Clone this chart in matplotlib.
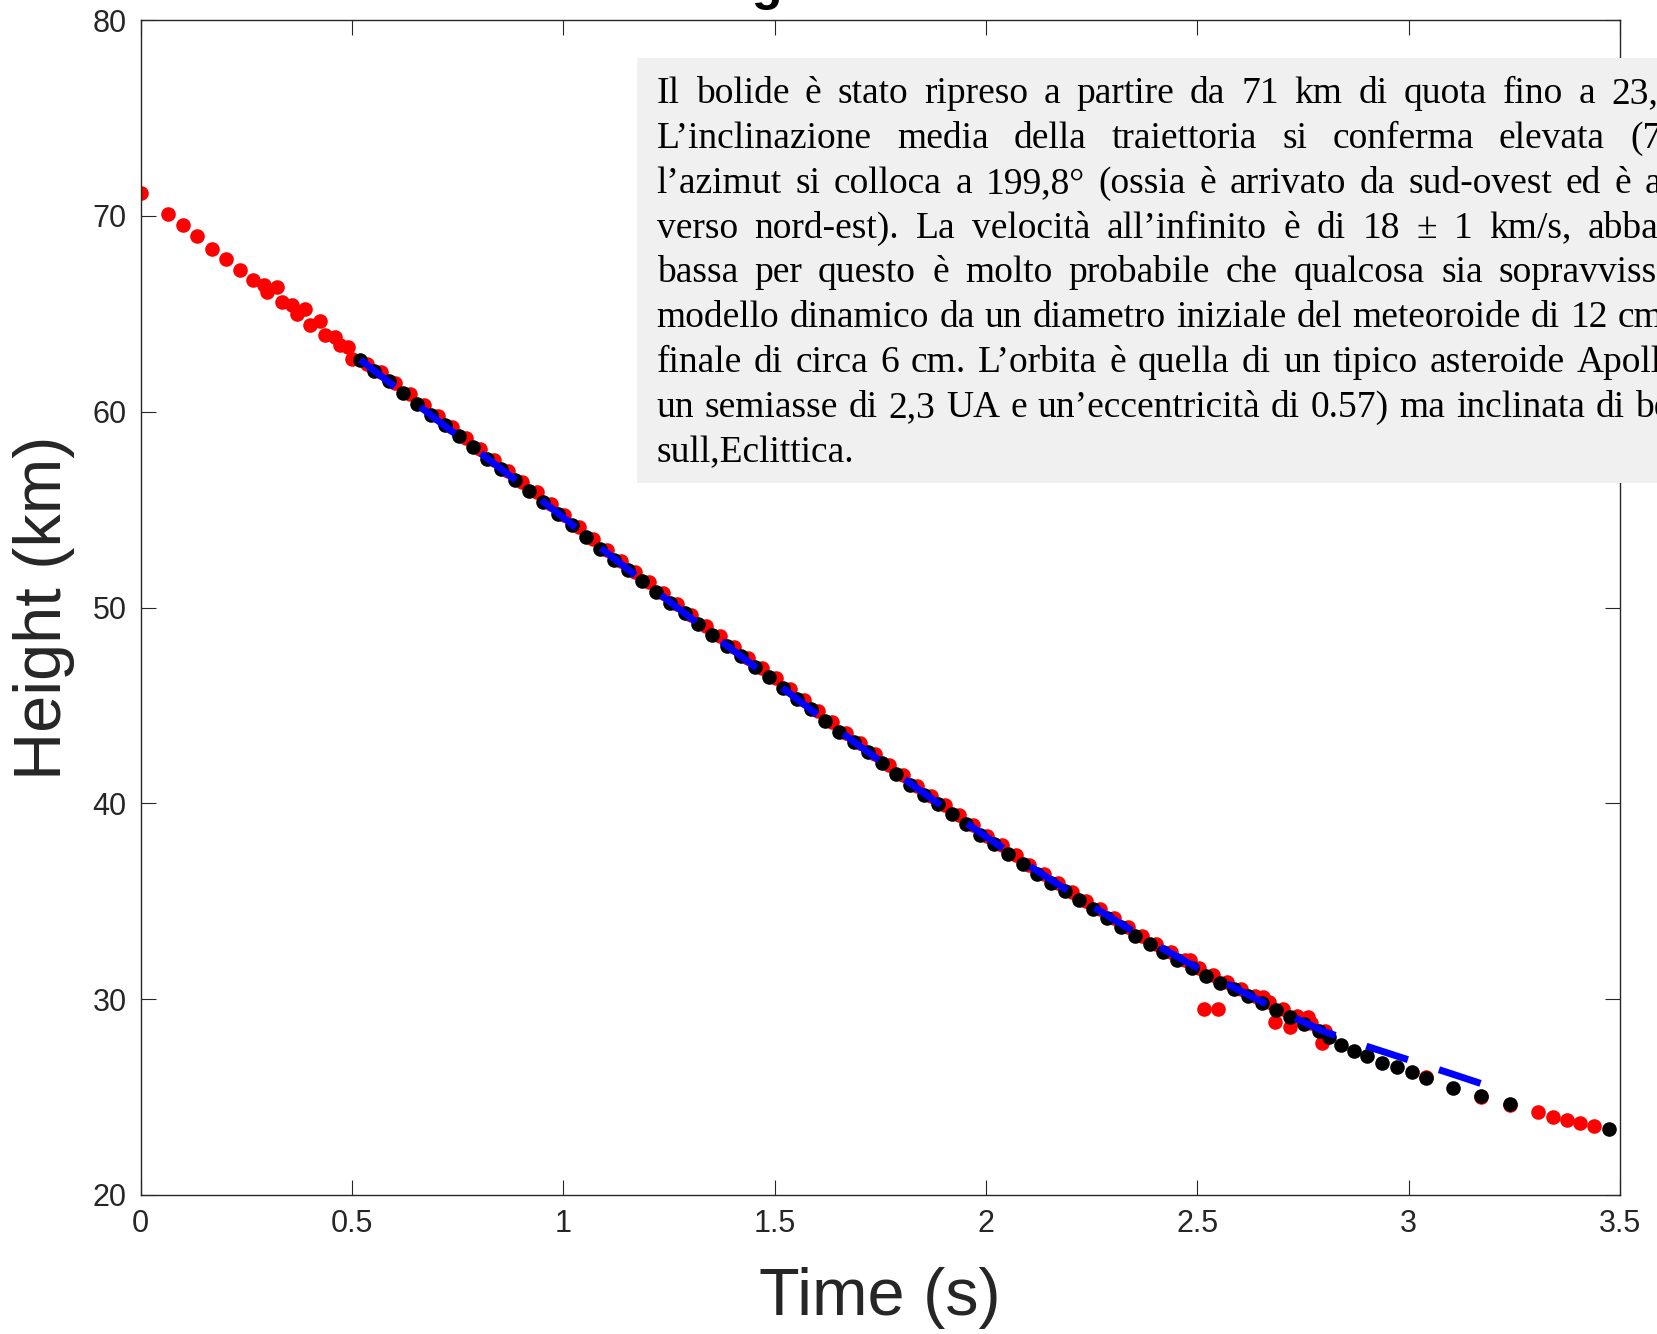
import matplotlib
matplotlib.use("Agg")
import matplotlib.pyplot as plt
from matplotlib.patches import Rectangle

# observed heights, station 1 (red)
red_t = [0.0, 0.066, 0.1, 0.134, 0.168, 0.202, 0.236, 0.267, 0.293, 0.299,
         0.322, 0.334, 0.358, 0.37, 0.389, 0.401, 0.425, 0.436, 0.46, 0.472,
         0.492, 0.5,
         0.537, 0.570, 0.603, 0.637, 0.670, 0.703, 0.737, 0.770, 0.803, 0.837,
         0.870, 0.903, 0.937, 0.970, 1.003, 1.037, 1.070, 1.103, 1.137, 1.170,
         1.203, 1.237, 1.270, 1.303, 1.337, 1.370, 1.403, 1.437, 1.470, 1.503,
         1.537, 1.570, 1.603, 1.637, 1.670, 1.703, 1.737, 1.770, 1.803, 1.837,
         1.870, 1.903, 1.937, 1.970, 2.003, 2.037, 2.070, 2.103, 2.137, 2.170,
         2.203, 2.237, 2.270, 2.303, 2.337, 2.370, 2.403, 2.437, 2.470, 2.503,
         2.537, 2.570, 2.603, 2.637, 2.670, 2.703, 2.737, 2.770, 2.803,
         2.483, 2.516, 2.55, 2.655, 2.684, 2.72, 2.763, 2.794,
         3.04, 3.171, 3.24, 3.307, 3.341, 3.374, 3.405, 3.439]
red_h = [71.16, 70.11, 69.51, 68.95, 68.32, 67.81, 67.25, 66.74, 66.45, 66.11,
         66.37, 65.6, 65.43, 65.01, 65.26, 64.41, 64.63, 63.9, 63.81, 63.39,
         63.3, 62.71,
         62.45, 62.03, 61.45, 60.88, 60.33, 59.78, 59.23, 58.68, 58.10, 57.53,
         56.98, 56.43, 55.88, 55.30, 54.70, 54.10, 53.50, 52.93, 52.38, 51.83,
         51.28, 50.73, 50.18, 49.63, 49.08, 48.53, 47.98, 47.43, 46.90, 46.38,
         45.83, 45.28, 44.70, 44.13, 43.60, 43.08, 42.53, 41.98, 41.43, 40.90,
         40.40, 39.90, 39.40, 38.88, 38.35, 37.85, 37.35, 36.85, 36.38, 35.93,
         35.48, 35.03, 34.58, 34.13, 33.68, 33.23, 32.80, 32.40, 32.00, 31.60,
         31.23, 30.88, 30.53, 30.18, 29.83, 29.48, 29.13, 28.78, 28.40,
         32.0, 29.48, 29.48, 30.09, 28.85, 28.6, 29.1, 27.74,
         26.05, 24.98, 24.6, 24.25, 24.0, 23.83, 23.69, 23.52]

# observed heights, station 2 (black)
black_t = [0.520, 0.553, 0.587, 0.620, 0.653, 0.687, 0.720, 0.753, 0.787, 0.820,
           0.853, 0.887, 0.920, 0.953, 0.987, 1.020, 1.053, 1.087, 1.120, 1.153,
           1.187, 1.220, 1.253, 1.287, 1.320, 1.353, 1.387, 1.420, 1.453, 1.487,
           1.520, 1.553, 1.587, 1.620, 1.653, 1.687, 1.720, 1.753, 1.787, 1.820,
           1.853, 1.887, 1.920, 1.953, 1.987, 2.020, 2.053, 2.087, 2.120, 2.153,
           2.187, 2.220, 2.253, 2.287, 2.320, 2.353, 2.387, 2.420, 2.453, 2.487,
           2.520, 2.553, 2.587, 2.620, 2.653, 2.687, 2.720, 2.753, 2.787, 2.812,
           2.839, 2.871, 2.902, 2.936, 2.972, 3.007, 3.040, 3.106, 3.171, 3.240,
           3.475]
black_h = [62.65, 62.10, 61.55, 60.95, 60.40, 59.85, 59.30, 58.75, 58.20, 57.60,
           57.05, 56.50, 55.95, 55.40, 54.80, 54.20, 53.60, 53.00, 52.45, 51.90,
           51.35, 50.80, 50.25, 49.70, 49.15, 48.60, 48.05, 47.50, 46.95, 46.45,
           45.90, 45.35, 44.80, 44.20, 43.65, 43.15, 42.60, 42.05, 41.50, 40.95,
           40.45, 39.95, 39.45, 38.95, 38.40, 37.90, 37.40, 36.90, 36.40, 35.95,
           35.50, 35.05, 34.60, 34.15, 33.70, 33.25, 32.80, 32.40, 32.00, 31.60,
           31.20, 30.85, 30.50, 30.15, 29.80, 29.45, 29.10, 28.75, 28.40, 28.05,
           27.66, 27.37, 27.10, 26.75, 26.52, 26.29, 25.96, 25.45, 25.05, 24.65,
           23.35]

# dynamic model fit (blue dashed)
model_t = [0.52, 0.6, 0.7, 0.8, 0.9, 1.0, 1.1, 1.2, 1.3, 1.4, 1.5, 1.6, 1.7,
           1.8, 1.9, 2.0, 2.1, 2.2, 2.3, 2.4, 2.5, 2.6, 2.7, 2.8, 2.9, 3.0,
           3.1, 3.17]
model_h = [62.65, 61.3, 59.6, 57.95, 56.3, 54.6, 52.85, 51.15, 49.5, 47.85,
           46.2, 44.55, 42.95, 41.35, 39.8, 38.3, 36.85, 35.45, 34.1, 32.8,
           31.6, 30.45, 29.35, 28.35, 27.6, 26.9, 26.2, 25.7]

x_ticks = [0, 0.5, 1, 1.5, 2, 2.5, 3, 3.5]
x_tick_labels = ["0", "0.5", "1", "1.5", "2", "2.5", "3", "3.5"]
y_ticks = [20, 30, 40, 50, 60, 70, 80]

note_lines = [
    "Il bolide è stato ripreso a partire da 71 km di quota fino a 23,",
    "L’inclinazione media della traiettoria si conferma elevata (7",
    "l’azimut si colloca a 199,8° (ossia è arrivato da sud-ovest ed è a",
    "verso nord-est). La velocità all’infinito è di 18 ± 1 km/s, abba",
    "bassa per questo è molto probabile che qualcosa sia sopravviss",
    "modello dinamico da un diametro iniziale del meteoroide di 12 cm",
    "finale di circa 6 cm. L’orbita è quella di un tipico asteroide Apoll",
    "un semiasse di 2,3 UA e un’eccentricità di 0.57) ma inclinata di be",
    "sull,Eclittica.",
]
# pixel x where the last visible word of each justified line begins
note_last_x = [1611, 1630, 1645, 1588, 1499, 1618, 1577, 1635, None]

W, H = 1657, 1334
ink = "#262626"

fig = plt.figure(figsize=(W / 100, H / 100), dpi=100)
ax = fig.add_axes([140.5 / W, 1 - 1195 / H, 1479.5 / W, 1175 / H])

ax.plot(red_t, red_h, "o", color="#ff0000", ms=10.5, mew=0, zorder=2)
ax.plot(black_t, black_h, "o", color="#000000", ms=10.5, mew=0, zorder=3)
ax.plot(model_t, model_h, color="#0000ff", lw=5, dashes=(6.3, 4.7), zorder=4)

ax.set_xlim(0, 3.5)
ax.set_ylim(20, 80)
ax.set_xticks(x_ticks)
ax.set_xticklabels(x_tick_labels)
ax.set_yticks(y_ticks)
ax.tick_params(direction="in", length=10.5, width=0.8, top=True, right=True,
               labelsize=22, colors=ink, pad=10)
for lab in ax.get_xticklabels() + ax.get_yticklabels():
    lab.set_family("Liberation Sans")
for sp in ax.spines.values():
    sp.set_color(ink)
    sp.set_linewidth(1.0)

ax.set_xlabel("Time (s)", fontsize=48, family="Liberation Sans", color=ink, va="center")
ax.xaxis.set_label_coords(0.5, -0.088)
ax.set_ylabel("Height (km)", fontsize=48, family="Liberation Sans", color=ink, va="center")
ax.yaxis.set_label_coords(-0.065, 0.5)

# title, almost entirely above the top edge of the image
fig.text(674 / W, 1.0, "Height vs Time", fontsize=36, weight="bold",
         family="Liberation Sans", color="#000000", ha="left", va="baseline")

# grey annotation box with justified text, running past the right edge
fig.add_artist(Rectangle((636.5 / W, 1 - 483 / H), 1.0, (483 - 58.3) / H,
                         transform=fig.transFigure, facecolor="#f0f0f0",
                         edgecolor="none", zorder=5))

renderer = fig.canvas.get_renderer()
font = dict(fontsize=27, family="Liberation Serif", color="#000000",
            ha="left", va="baseline", zorder=6)


def text_width(s):
    t = fig.text(0, 0, s, **font)
    w = t.get_window_extent(renderer).width
    t.remove()
    return w


space_w = text_width("x x") - text_width("xx")
x0 = 656.7
for i, line in enumerate(note_lines):
    ybase = 103.3 + i * 44.8
    words = line.split(" ")
    arts = [fig.text(0, 0, w, **font) for w in words]
    widths = [a.get_window_extent(renderer).width for a in arts]
    last_x = note_last_x[i]
    if last_x is None or len(words) < 2:
        gap = space_w
    else:
        gap = max(space_w * 0.8, (last_x - x0 - sum(widths[:-1])) / (len(words) - 1))
    x = x0
    for a, w in zip(arts, widths):
        a.set_position((x / W, 1 - ybase / H))
        x += w + gap

fig.savefig("out.png", dpi=100)
